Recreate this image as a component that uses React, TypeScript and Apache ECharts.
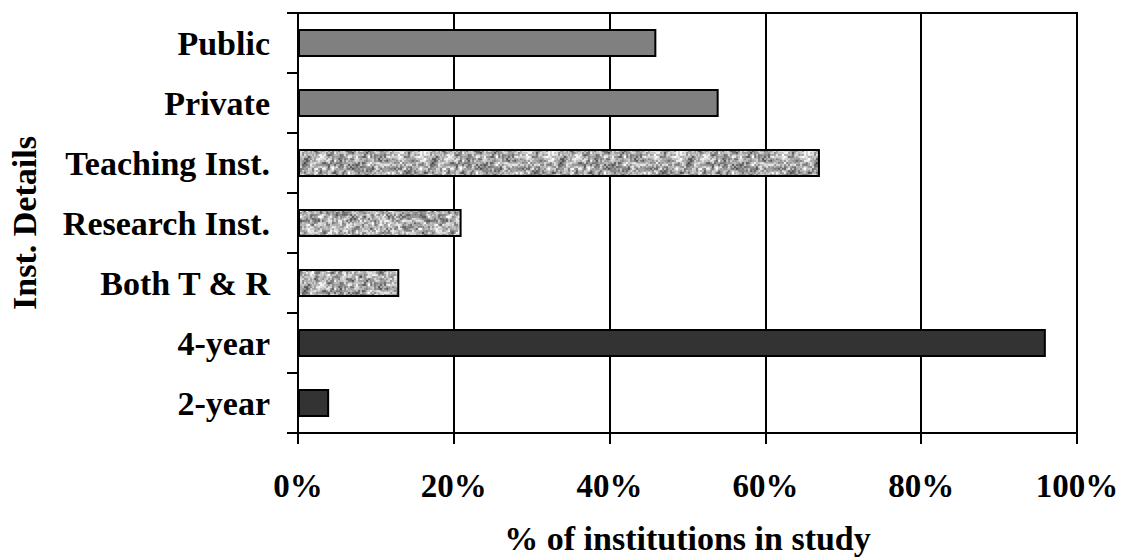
import React, { useEffect, useRef } from "react";
import * as echarts from "echarts";

const categories = [
  "Public",
  "Private",
  "Teaching Inst.",
  "Research Inst.",
  "Both T & R",
  "4-year",
  "2-year",
];
const values = [46, 54, 67, 21, 13, 96, 4];
const fillKinds = ["gray", "gray", "texture", "texture", "texture", "dark", "dark"];
const xMin = 0;
const xMax = 100;
const xStep = 20;
const xTitle = "% of institutions in study";
const yTitle = "Inst. Details";

const FONT = '"Liberation Serif", "Times New Roman", serif';

function hash(x: number, y: number): number {
  let h = (Math.imul(x, 374761393) + Math.imul(y, 668265263)) ^ 0x5bd1e995;
  h = Math.imul(h ^ (h >>> 13), 1274126177);
  h ^= h >>> 16;
  return (h >>> 0) / 4294967295;
}

function makeTexture(size: number): string {
  const c = document.createElement("canvas");
  c.width = size;
  c.height = size;
  const ctx = c.getContext("2d");
  if (!ctx) return "";
  const img = ctx.createImageData(size, size);
  const coarse = 4;
  const nc = size / coarse;
  const fine = 2;
  for (let y = 0; y < size; y++) {
    for (let x = 0; x < size; x++) {
      const gx = x / coarse;
      const gy = y / coarse;
      const x0 = Math.floor(gx);
      const y0 = Math.floor(gy);
      const fx = gx - x0;
      const fy = gy - y0;
      const sx = fx * fx * (3 - 2 * fx);
      const sy = fy * fy * (3 - 2 * fy);
      const a = hash(x0 % nc, y0 % nc);
      const b = hash((x0 + 1) % nc, y0 % nc);
      const cc = hash(x0 % nc, (y0 + 1) % nc);
      const d = hash((x0 + 1) % nc, (y0 + 1) % nc);
      const cv = (a * (1 - sx) + b * sx) * (1 - sy) + (cc * (1 - sx) + d * sx) * sy;
      const fv = hash(1000 + Math.floor(x / fine), 2000 + Math.floor(y / fine));
      const v = 0.55 * cv + 0.45 * fv;
      const g = Math.max(0, Math.min(255, Math.round(65 + v * 210)));
      const k = (y * size + x) * 4;
      img.data[k] = g;
      img.data[k + 1] = g;
      img.data[k + 2] = g;
      img.data[k + 3] = 255;
    }
  }
  ctx.putImageData(img, 0, 0);
  return c.toDataURL();
}

export default function App() {
  const ref = useRef<HTMLDivElement>(null);
  useEffect(() => {
    if (!ref.current) return;
    const chart = echarts.init(ref.current, null, { renderer: "svg" });
    const texSize = 128;
    const tex = makeTexture(texSize);
    const fills: Record<string, any> = {
      gray: "#808080",
      dark: "#333333",
      texture: { image: tex, repeat: "repeat", imageWidth: texSize, imageHeight: texSize },
    };
    const data = values.map((v, i) => ({
      value: v,
      itemStyle: { color: fills[fillKinds[i]] },
    }));
    const gridLeft = 298;
    const gridRight = 46;
    const gridTop = 13;
    const gridBottom = 127;
    chart.setOption({
      animation: false,
      backgroundColor: "#ffffff",
      grid: {
        left: gridLeft,
        right: gridRight,
        top: gridTop,
        bottom: gridBottom,
        show: true,
        borderColor: "#000",
        borderWidth: 2,
      },
      xAxis: {
        type: "value",
        min: xMin,
        max: xMax,
        interval: xStep,
        axisLine: { show: true, lineStyle: { color: "#000", width: 2 } },
        axisTick: { show: true, length: 11, lineStyle: { color: "#000", width: 2 } },
        splitLine: { show: true, lineStyle: { color: "#000", width: 2 } },
        axisLabel: {
          formatter: "{value}%",
          color: "#000",
          fontFamily: FONT,
          fontWeight: "bold",
          fontSize: 33,
          margin: 36,
        },
      },
      yAxis: {
        type: "category",
        data: categories,
        inverse: true,
        axisLine: { show: true, lineStyle: { color: "#000", width: 2 } },
        axisTick: { show: true, length: 11, lineStyle: { color: "#000", width: 2 } },
        axisLabel: {
          color: "#000",
          fontFamily: FONT,
          fontWeight: "bold",
          fontSize: 34,
          margin: 28,
        },
      },
      graphic: [
        {
          type: "text",
          x: (gridLeft + 1123 - gridRight) / 2,
          y: 538,
          style: {
            text: xTitle,
            fill: "#000",
            font: `bold 34px ${FONT}`,
            textAlign: "center",
            textVerticalAlign: "middle",
          },
        },
        {
          type: "text",
          x: 24,
          y: 223,
          rotation: Math.PI / 2,
          style: {
            text: yTitle,
            fill: "#000",
            font: `bold 34px ${FONT}`,
            textAlign: "center",
            textVerticalAlign: "middle",
          },
        },
      ],
      series: [
        {
          type: "bar",
          data,
          barWidth: 28,
          itemStyle: { borderColor: "#000", borderWidth: 2 },
        },
      ],
    });
    return () => chart.dispose();
  }, []);
  return (
    <div
      ref={ref}
      style={{ position: "fixed", left: 0, top: 0, width: 1123, height: 560 }}
    />
  );
}
